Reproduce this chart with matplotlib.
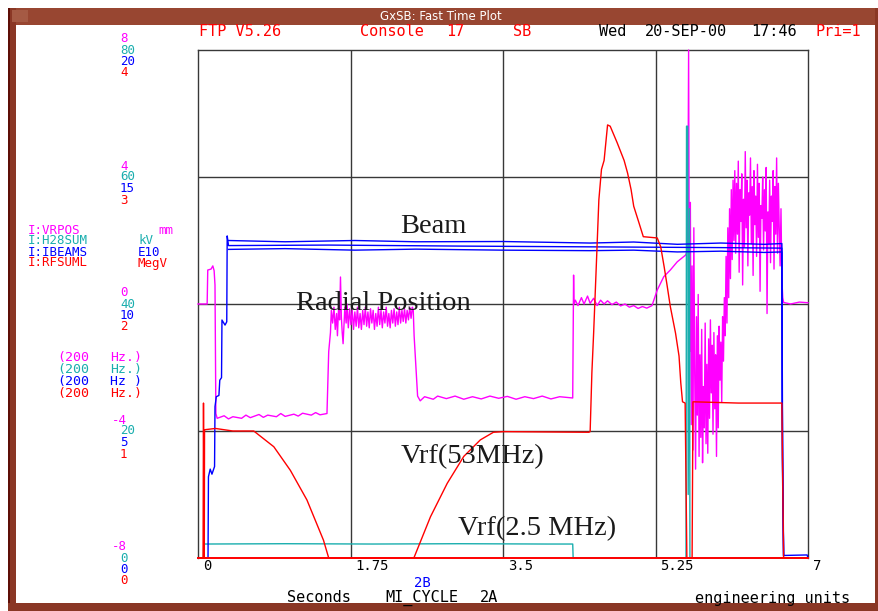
import numpy as np
import matplotlib.pyplot as plt
import matplotlib.transforms as mtransforms
from matplotlib.patches import Rectangle

W, H = 879, 611

# channel scales: value at bottom and at top of the 4 divisions
vrpos_range = (-8, 8)     # mm
h28sum_range = (0, 80)    # kV
ibeams_range = (0, 20)    # E10
rfsuml_range = (0, 4)     # MegV

# left axis labels (bottom -> top)
vrpos_ticks = ['-8', '-4', '0', '4', '8']
h28sum_ticks = ['0', '20', '40', '60', '80']
ibeams_ticks = ['0', '5', '10', '15', '20']
rfsuml_ticks = ['0', '1', '2', '3', '4']

x_ticks = [0, 1.75, 3.5, 5.25, 7]
x_labels = ['0', '1.75', '3.5', '5.25', '7']

# I:VRPOS radial position (s, mm)
vrpos_start = [(0.0, 0.0), (0.105, 0.0), (0.112, 1.07), (0.15, 1.1), (0.17, 1.2),
               (0.185, 1.05), (0.195, 0.6), (0.205, -3.45), (0.22, -3.6)]
vrpos_low1 = [(0.30, -3.52), (0.35, -3.62), (0.40, -3.55), (0.50, -3.6), (0.55, -3.5),
              (0.60, -3.58), (0.70, -3.48), (0.75, -3.57), (0.80, -3.5), (0.90, -3.55),
              (0.95, -3.45), (1.00, -3.54), (1.10, -3.47), (1.15, -3.53), (1.20, -3.44),
              (1.30, -3.5), (1.35, -3.42), (1.40, -3.49), (1.48, -3.45)]
vrpos_noise1 = [(1.50, -1.5), (1.52, -0.9), (1.53, -0.2), (1.545, -0.6), (1.56, -0.1),
                (1.575, -0.8), (1.59, -0.3), (1.60, -1.0), (1.615, 0.0), (1.625, -0.5),
                (1.635, 0.85), (1.645, -0.4), (1.655, -0.9), (1.665, -1.25), (1.675, -0.7),
                (1.685, -0.1), (1.70, -0.6), (1.71, 0.0), (1.725, -0.75), (1.74, -0.15),
                (1.755, -0.65), (1.77, -0.2), (1.785, -0.8), (1.80, -0.25), (1.815, -0.7),
                (1.83, -0.1), (1.845, -0.75), (1.86, -0.3), (1.875, -0.8), (1.89, -0.2),
                (1.905, -0.65), (1.92, -0.1), (1.935, -0.7), (1.95, -0.25), (1.965, -0.75),
                (1.98, -0.15), (1.995, -0.6), (2.01, -0.2), (2.025, -0.8), (2.04, -0.3),
                (2.055, -0.7), (2.07, -0.1), (2.085, -0.65), (2.10, -0.2), (2.115, -0.75),
                (2.13, -0.25), (2.145, -0.6), (2.16, -0.1), (2.175, -0.7), (2.19, -0.3),
                (2.205, -0.75), (2.22, -0.2), (2.235, -0.6), (2.25, -0.15), (2.265, -0.7),
                (2.28, -0.25), (2.295, -0.65), (2.31, -0.1), (2.325, -0.6), (2.34, -0.2),
                (2.355, -0.55), (2.37, -0.15), (2.385, -0.6), (2.40, -0.2), (2.415, -0.5),
                (2.43, -0.1), (2.445, -0.45), (2.46, -0.1), (2.47, -0.2), (2.48, -1.0)]
vrpos_low2 = [(2.52, -2.9), (2.55, -3.05), (2.60, -2.92), (2.70, -3.0), (2.75, -2.9),
              (2.85, -2.98), (2.95, -2.9), (3.05, -3.0), (3.15, -2.92), (3.25, -2.99),
              (3.35, -2.9), (3.45, -2.97), (3.55, -2.91), (3.65, -3.0), (3.75, -2.92),
              (3.85, -2.98), (3.95, -2.9), (4.05, -2.99), (4.15, -2.92), (4.29, -2.96)]
vrpos_plateau = [(4.30, -2.96), (4.305, -1.0), (4.31, 0.91), (4.315, 0.0), (4.33, 0.12),
                 (4.36, -0.05), (4.40, 0.2), (4.43, 0.0), (4.47, 0.25), (4.50, 0.02),
                 (4.54, 0.18), (4.58, -0.05), (4.62, 0.12), (4.66, 0.0), (4.70, 0.1),
                 (4.75, -0.02), (4.80, 0.06), (4.85, -0.06), (4.90, 0.0), (4.95, -0.1),
                 (5.00, -0.05), (5.05, -0.14), (5.10, -0.08), (5.15, -0.13), (5.21, -0.05)]
vrpos_ramp = [(5.27, 0.44), (5.345, 0.86), (5.42, 1.07), (5.50, 1.33), (5.595, 1.54),
              (5.62, 1.7)]
vrpos_noise2 = [(5.63, 8.0), (5.64, -1.5), (5.65, 3.2), (5.66, -3.8), (5.67, 1.2),
                (5.68, -4.6), (5.69, 2.4), (5.70, -2.2), (5.71, -5.2), (5.72, -0.4),
                (5.73, -3.5), (5.74, 0.3), (5.75, -4.8), (5.76, -1.6), (5.77, -4.2),
                (5.78, -0.8), (5.79, -5.0), (5.80, -2.6), (5.81, -3.9), (5.82, -0.6),
                (5.83, -4.4), (5.84, -1.9), (5.85, -4.7), (5.86, -1.1), (5.87, -3.6),
                (5.88, -0.5), (5.89, -2.8), (5.90, -1.3), (5.91, -4.1), (5.92, -0.9),
                (5.93, -3.3), (5.94, -1.6), (5.95, -4.8), (5.96, -1.0), (5.97, -3.9),
                (5.98, -0.7), (5.99, -2.4), (6.00, -1.2), (6.01, -3.1), (6.02, -0.4),
                (6.03, -1.8), (6.04, 0.2), (6.05, -1.0), (6.06, 1.5), (6.07, -0.6),
                (6.08, 2.4), (6.09, 0.2), (6.10, 3.0), (6.11, 0.8), (6.12, 3.6),
                (6.13, 1.4), (6.14, 3.9), (6.15, 2.0), (6.16, 4.2), (6.17, 1.6),
                (6.18, 3.8), (6.19, 2.2), (6.20, 4.5), (6.21, 1.0), (6.22, 3.6),
                (6.23, 2.6), (6.24, 4.1), (6.25, 0.6), (6.26, 3.3), (6.27, 1.8),
                (6.28, 4.8), (6.29, 2.4), (6.30, 3.9), (6.31, 1.2), (6.32, 3.5),
                (6.33, 2.8), (6.34, 4.6), (6.35, 1.9), (6.36, 3.7), (6.37, 0.9),
                (6.38, 4.2), (6.39, 2.5), (6.40, 3.4), (6.41, 1.5), (6.42, 4.4),
                (6.43, 2.1), (6.44, 3.8), (6.45, 0.4), (6.46, 3.1), (6.47, 2.7),
                (6.48, 4.0), (6.49, 1.7), (6.50, 3.6), (6.51, 2.3), (6.52, 4.3),
                (6.53, -0.3), (6.54, 2.9), (6.55, 1.9), (6.56, 3.9), (6.57, 1.3),
                (6.58, 3.4), (6.59, 2.6), (6.60, 4.2), (6.61, 1.1), (6.62, 3.7),
                (6.63, 2.2), (6.64, 4.6), (6.65, 1.6), (6.66, 3.8), (6.67, 2.4),
                (6.68, 1.2), (6.69, 3.0), (6.70, 0.8), (6.71, 0.2)]
vrpos_end = [(6.72, 0.05), (6.80, 0.0), (6.90, 0.06), (7.0, 0.04)]

# I:H28SUM (s, kV)
h28sum = [(0.0, 0.0), (0.062, 0.0), (0.066, 2.2), (1.0, 2.25), (2.0, 2.2), (3.0, 2.25),
          (4.0, 2.2), (4.30, 2.2), (4.305, 0.0), (5.60, 0.0), (5.603, 30.0), (5.606, 68.0),
          (5.62, 68.0), (5.625, 10.0), (5.64, 55.0), (5.645, 0.0), (7.0, 0.0)]

# I:IBEAMS (s, E10) - main trace plus the two neighbouring beam lines
ibeams = [(0.0, 0.0), (0.115, 0.0), (0.12, 3.2), (0.14, 3.5), (0.16, 3.3), (0.19, 3.6),
          (0.195, 5.96), (0.21, 6.35), (0.24, 6.4), (0.25, 7.0), (0.27, 7.1), (0.275, 9.37),
          (0.31, 9.17), (0.33, 9.3), (0.335, 12.68), (0.35, 12.3), (1.5, 12.32), (3.0, 12.28),
          (4.5, 12.25), (6.0, 12.22), (6.70, 12.2), (6.705, 7.5), (6.71, 3.0), (6.72, 0.1),
          (6.99, 0.12), (7.0, 0.0)]
ibeams_upper = [(0.345, 12.5), (1.0, 12.45), (1.8, 12.5), (2.5, 12.45), (3.5, 12.46),
                (4.5, 12.4), (5.0, 12.44), (5.5, 12.35), (6.0, 12.4), (6.5, 12.35),
                (6.70, 12.38), (6.705, 6.0), (6.72, 0.1)]
ibeams_lower = [(0.35, 12.15), (1.0, 12.18), (1.8, 12.12), (2.5, 12.16), (3.5, 12.12),
                (4.5, 12.1), (5.0, 12.12), (5.5, 12.05), (6.0, 12.08), (6.5, 12.03),
                (6.70, 12.05), (6.705, 4.0), (6.72, 0.1)]

# I:RFSUML (s, MegV)
rfsuml = [(0.0, 0.0), (0.058, 0.0), (0.063, 1.22), (0.068, 0.45), (0.072, 0.0),
          (0.075, 1.01), (0.20, 1.02), (0.40, 1.0), (0.64, 1.0), (0.87, 0.876),
          (1.06, 0.69), (1.25, 0.457), (1.44, 0.14), (1.50, 0.0), (2.477, 0.0),
          (2.668, 0.325), (2.86, 0.588), (3.05, 0.80), (3.24, 0.93), (3.39, 0.99),
          (3.51, 0.995), (4.485, 0.99), (4.50, 0.995), (4.52, 1.46), (4.54, 1.77),
          (4.57, 2.29), (4.60, 2.82), (4.63, 3.06), (4.66, 3.13), (4.70, 3.41),
          (4.73, 3.40), (4.81, 3.27), (4.89, 3.13), (4.93, 3.03), (4.97, 2.90),
          (5.00, 2.77), (5.06, 2.64), (5.11, 2.53), (5.27, 2.52), (5.31, 2.45),
          (5.35, 2.29), (5.38, 2.16), (5.42, 1.98), (5.48, 1.77), (5.52, 1.59),
          (5.54, 1.38), (5.56, 1.23), (5.59, 1.22), (5.61, 0.0), (5.67, 0.0),
          (5.68, 1.23), (6.20, 1.22), (6.70, 1.22), (6.72, 0.0), (7.0, 0.0)]

MAG, CYA, BLU, RED = '#ff00ff', '#1aaeae', '#0000ff', '#ff0000'
MONO = 'DejaVu Sans Mono'
SERIF = 'Liberation Serif'


def to_div(pairs, rng):
    t, v = zip(*pairs)
    v = (np.array(v) - rng[0]) / (rng[1] - rng[0]) * 4
    return np.array(t), v


fig = plt.figure(figsize=(W / 100, H / 100), dpi=100, facecolor='white')


def px_text(x, y, s, **kw):
    fig.text(x / W, 1 - y / H, s, **kw)


def px_rect(x, y, w, h, color):
    fig.add_artist(Rectangle((x / W, 1 - (y + h) / H), w / W, h / H,
                             transform=fig.transFigure, color=color, lw=0))


# window frame
px_rect(8, 8, 871, 17, '#984631')
px_rect(8, 8, 8, 603, '#8a3725')
px_rect(8, 8, 2, 603, '#5e0e06')
px_rect(8, 603, 871, 8, '#8a3725')
px_rect(875, 8, 4, 603, '#8a3725')
px_rect(12, 10, 16, 12, '#a55a44')
px_text(441, 17, 'GxSB: Fast Time Plot', color='white', fontsize=8.5,
        ha='center', va='center', family='DejaVu Sans')

ax = fig.add_axes([198 / W, 1 - 558 / H, 610 / W, 508 / H])
ax.set_xlim(0, 7)
ax.set_ylim(0, 4)
ax.set_xticks(x_ticks[1:-1])
ax.set_yticks([1, 2, 3])
ax.grid(True, color='#383838', lw=1)
ax.tick_params(length=0, labelbottom=False, labelleft=False)
for s in ax.spines.values():
    s.set_color('#383838')
    s.set_linewidth(1)
ax.spines['bottom'].set_color(RED)
ax.spines['bottom'].set_linewidth(1.4)
ax.spines['bottom'].set_zorder(4)

lw = 1.0
t, v = to_div(vrpos_start + vrpos_low1 + vrpos_noise1 + vrpos_low2 + vrpos_plateau
              + vrpos_ramp + vrpos_noise2 + vrpos_end, vrpos_range)
ax.plot(t, v, color=MAG, lw=lw, clip_on=False, zorder=3)
t, v = to_div(h28sum, h28sum_range)
ax.plot(t, v, color=CYA, lw=lw, clip_on=False, zorder=3)
for tr in (ibeams, ibeams_upper, ibeams_lower):
    t, v = to_div(tr, ibeams_range)
    ax.plot(t, v, color=BLU, lw=lw, clip_on=False, zorder=3)
t, v = to_div(rfsuml, rfsuml_range)
ax.plot(t, v, color=RED, lw=lw, clip_on=False, zorder=3)

# x tick labels, left aligned just right of each tick
xlab_tr = mtransforms.offset_copy(ax.get_xaxis_transform(), fig=fig, x=5, y=-8, units='dots')
for xt, lab in zip(x_ticks, x_labels):
    ax.text(xt, 0, lab, transform=xlab_tr, fontsize=10, family=MONO,
            ha='left', va='center', color='black')

# stacked left scales
base = mtransforms.blended_transform_factory(fig.transFigure, ax.transData)
stack = [(vrpos_ticks, MAG, -11), (h28sum_ticks, CYA, 0),
         (ibeams_ticks, BLU, 11.5), (rfsuml_ticks, RED, 23)]
for labels, col, off in stack:
    tr = mtransforms.offset_copy(base, fig=fig, y=-off, units='dots')
    for d, lab in enumerate(labels):
        xs = 120 if not lab.startswith('-') else 112
        ax.text(xs / W, d, lab, transform=tr, color=col, fontsize=9,
                family=MONO, ha='left', va='center', clip_on=False)

# channel legend
legend_rows = [('I:VRPOS', 'mm', MAG, 231, 158), ('I:H28SUM', 'kV', CYA, 241, 138),
               ('I:IBEAMS', 'E10', BLU, 252, 138), ('I:RFSUML', 'MegV', RED, 263, 138)]
for name, unit, col, y, ux in legend_rows:
    px_text(28, y, name, color=col, fontsize=9, family=MONO, va='center')
    px_text(ux, y, unit, color=col, fontsize=9, family=MONO, va='center')

rate_rows = [('Hz.)', MAG, 357), ('Hz.)', CYA, 369), ('Hz )', BLU, 382), ('Hz.)', RED, 394)]
for hz, col, y in rate_rows:
    px_text(57, y, '(200', color=col, fontsize=9.5, family=MONO, va='center')
    px_text(110, y, hz, color=col, fontsize=9.5, family=MONO, va='center')

# header line
header = [('FTP V5.26', 199, RED), ('Console', 360, RED), ('17', 446, RED),
          ('SB', 513, RED), ('Wed', 599, 'black'), ('20-SEP-00', 645, 'black'),
          ('17:46', 751, 'black'), ('Pri=1', 816, RED)]
for s, x, col in header:
    px_text(x, 31, s, color=col, fontsize=11, family=MONO, va='center')

# footer
px_text(414, 583, '2B', color=BLU, fontsize=10, family=MONO, va='center')
px_text(287, 598, 'Seconds', color='black', fontsize=11, family=MONO, va='center')
px_text(385, 598, 'MI_CYCLE', color='black', fontsize=11, family=MONO, va='center')
px_text(480, 598, '2A', color='black', fontsize=11, family=MONO, va='center')
px_text(695, 598, 'engineering units', color='black', fontsize=11, family=MONO, va='center')

# hand annotations
notes = [('Beam', 400, 233), ('Radial Position', 296, 310),
         ('Vrf(53MHz)', 401, 463), ('Vrf(2.5 MHz)', 458, 535)]
for s, x, y in notes:
    px_text(x, y, s, color='#1a1a1a', fontsize=20.5, family=SERIF, va='baseline')

fig.savefig('out.png', dpi=100)
